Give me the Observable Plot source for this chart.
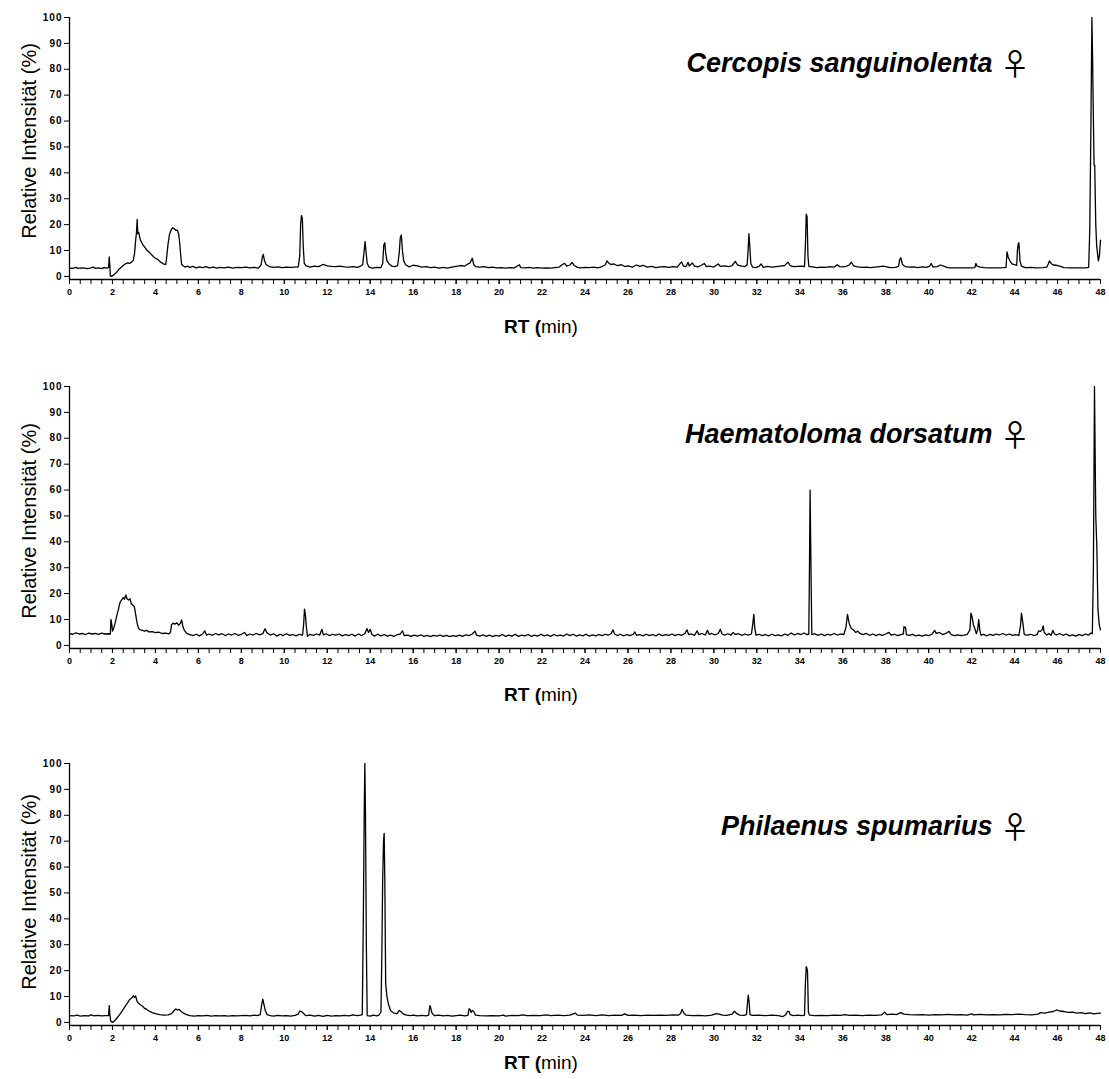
<!DOCTYPE html>
<html>
<head>
<meta charset="utf-8">
<script src="https://cdn.jsdelivr.net/npm/d3@7"></script>
<script src="https://cdn.jsdelivr.net/npm/@observablehq/plot@0.6"></script>
<style>
  html, body { margin: 0; padding: 0; background: #fff; overflow: hidden; }
  #chart { position: relative; width: 1109px; height: 1079px; font-family: Arial, "Liberation Sans", sans-serif; }
  #chart svg { position: absolute; left: 0; overflow: visible; }
</style>
</head>
<body>
<div id="chart"></div>
<script>
// Species shown in the three stacked chromatograms (top to bottom)
const speciesNames = ["Cercopis sanguinolenta", "Haematoloma dorsatum", "Philaenus spumarius"];

// Axis ticks
const xMajorTicks = d3.range(0, 49, 2);          // labelled every 2 min
const xMinorTicks = d3.range(0, 48.01, 0.5);     // unlabelled every 0.5 min
const yTicks = d3.range(0, 101, 10);

// Total ion chromatograms: [retention time (min), relative intensity (%)]
const cercopisTrace = [
  [0,3.2],[0.15,3.1],[0.3,3.5],[0.4,3.1],[0.55,3.3],[0.7,3.2],[0.85,3.0],[1.0,3.3],[1.1,3.6],[1.2,3.1],[1.35,3.3],[1.5,3.0],[1.6,3.4],[1.75,3.2],[1.82,3.5],
  [1.85,7.5],[1.88,4],[1.9,0.2],[1.95,0],[2.05,0.5],[2.2,1.6],[2.3,2.8],[2.45,3.8],[2.55,4.6],[2.7,5.2],[2.8,5.0],[2.9,5.6],[2.97,6.2],
  [3.03,9],[3.08,14],[3.12,17],[3.15,22],[3.18,16.5],[3.22,17],[3.3,14],[3.4,12.5],[3.5,11.3],[3.6,10.2],[3.7,9.4],[3.8,8.6],[3.9,7.7],[4.0,7.0],[4.1,6.6],[4.2,5.8],[4.3,5.2],[4.4,4.7],[4.48,4.6],
  [4.52,7],[4.58,12],[4.65,16],[4.72,17.8],[4.8,18.8],[4.88,18.4],[4.95,17.8],[5.02,17.9],[5.08,16.5],[5.13,13],[5.18,8],[5.22,4.6],[5.3,4.0],[5.4,3.6],[5.5,4.0],
  [5.6,3.5],[5.75,3.9],[5.9,3.3],[6.05,3.7],[6.2,3.4],[6.35,3.8],[6.5,3.3],[6.7,3.6],[6.85,3.2],[7.0,3.5],[7.2,3.3],[7.4,3.6],[7.6,3.2],[7.8,3.5],[8.0,3.4],[8.2,3.6],[8.4,3.3],[8.6,3.5],[8.8,3.2],
  [8.92,4.5],[8.98,7.5],[9.02,8.5],[9.08,6],[9.15,4.6],[9.3,3.8],[9.5,3.5],[9.7,3.7],[9.9,3.4],[10.1,3.6],[10.3,3.5],[10.5,3.6],[10.65,3.7],
  [10.72,8],[10.76,20],[10.8,23.5],[10.84,22.5],[10.88,12],[10.93,5],[11.0,4.2],[11.2,3.6],[11.4,4.0],[11.6,3.8],[11.8,4.6],[12.0,4.1],[12.2,3.9],[12.4,3.8],[12.6,4.0],[12.8,3.7],[13.0,3.6],[13.2,3.8],[13.4,3.5],[13.55,4.0],
  [13.65,4.5],[13.72,10],[13.76,13.5],[13.8,10],[13.86,5],[13.95,3.6],[14.1,3.2],[14.3,3.5],[14.5,3.4],
  [14.58,5],[14.63,12],[14.68,13],[14.72,9],[14.78,6],[14.88,4.8],[15.0,4.0],[15.15,3.8],[15.28,4.2],
  [15.35,9],[15.4,15],[15.45,16],[15.5,10],[15.56,6],[15.65,4.5],[15.8,3.7],[16.0,4.3],[16.2,4.1],[16.4,3.6],[16.6,3.8],[16.8,3.4],[17.0,3.6],[17.2,3.2],[17.4,3.5],[17.6,3.2],[17.8,3.6],[18.0,3.9],[18.2,4.2],[18.4,4.0],
  [18.55,4.8],[18.65,5.2],[18.75,7.0],[18.82,4.6],[18.9,3.8],[19.1,3.6],[19.3,3.8],[19.5,3.4],[19.7,3.6],[19.9,3.3],[20.1,3.4],[20.3,3.2],[20.5,3.4],[20.7,3.3],[20.95,4.5],[21.0,3.4],[21.2,3.3],[21.4,3.5],[21.6,3.2],[21.8,3.4],[22.0,3.2],[22.2,3.3],[22.4,3.2],[22.6,3.4],[22.8,3.6],
  [22.95,4.6],[23.05,5.0],[23.15,4.0],[23.3,4.4],[23.4,5.4],[23.5,4.2],[23.65,3.5],[23.8,3.3],[24.0,3.5],[24.2,3.4],[24.4,3.6],[24.6,3.3],[24.8,3.8],[24.95,4.5],[25.02,6.0],[25.1,5.2],[25.2,4.6],[25.35,4.8],[25.5,4.2],[25.7,4.5],[25.85,3.8],
  [26.0,4.1],[26.2,3.6],[26.4,4.4],[26.55,3.9],[26.7,4.3],[26.9,3.6],[27.1,3.9],[27.3,3.4],[27.5,3.7],[27.7,3.8],[27.9,3.5],[28.1,3.8],[28.3,3.6],[28.45,5.2],[28.5,5.6],[28.58,4.0],[28.7,3.8],[28.8,5.4],[28.85,4.0],[29.0,5.2],[29.1,4.0],
  [29.25,3.7],[29.4,4.2],[29.55,5.0],[29.65,3.8],[29.8,4.0],[30.0,3.6],[30.2,4.8],[30.3,3.9],[30.5,4.1],[30.7,3.8],[30.85,4.2],[31.0,5.8],[31.1,4.4],[31.3,4.0],[31.45,3.8],
  [31.55,4.5],[31.6,11],[31.63,16.5],[31.67,12],[31.72,5],[31.8,3.6],[31.95,3.4],[32.1,3.9],[32.2,4.8],[32.3,3.5],[32.5,3.9],[32.7,3.6],[32.9,3.8],[33.1,4.0],[33.3,4.2],[33.45,5.5],[33.55,4.2],[33.7,3.8],[33.9,3.9],[34.1,4.0],[34.22,3.8],
  [34.27,14],[34.3,24],[34.34,23],[34.38,8],[34.42,3.9],[34.6,3.7],[34.8,3.4],[35.0,3.6],[35.2,3.5],[35.4,3.8],[35.6,3.6],[35.75,4.5],[35.85,3.8],[36.0,3.7],[36.15,3.9],[36.3,4.4],[36.4,5.5],[36.5,4.1],[36.7,3.7],[36.9,3.5],
  [37.1,3.6],[37.3,3.4],[37.5,3.6],[37.7,3.8],[37.9,4.0],[38.05,3.7],[38.2,3.4],[38.45,3.5],[38.6,3.9],[38.65,6.5],[38.7,7.2],[38.78,4.6],[38.9,3.8],[39.1,3.6],[39.3,3.7],[39.5,3.4],[39.7,3.7],[39.9,3.5],
  [40.05,4.0],[40.12,5.0],[40.2,3.6],[40.4,3.8],[40.55,4.4],[40.7,4.0],[40.85,3.5],[41.0,3.3],[41.5,3.3],[42.0,3.3],[42.15,3.4],[42.2,5.0],[42.25,4.0],[42.4,3.6],[42.6,3.4],[42.8,3.3],[43.0,3.3],[43.3,3.3],[43.5,3.4],[43.6,3.5],
  [43.65,9.5],[43.7,7.5],[43.78,6],[43.88,4.8],[44.0,4.5],[44.1,4.3],[44.13,10],[44.17,12.5],[44.2,13],[44.25,6],[44.32,4.0],[44.5,3.4],[44.8,3.5],[45.0,3.3],[45.3,3.4],[45.5,3.6],
  [45.58,5],[45.62,6.0],[45.7,5],[45.8,4.4],[45.95,4.3],[46.1,4.0],[46.3,3.4],[46.6,3.3],[47.0,3.3],[47.3,3.3],[47.45,3.5],
  [47.5,18],[47.55,55],[47.6,100],[47.63,85],[47.67,60],[47.7,43],[47.73,43],[47.78,20],[47.82,12],[47.86,9],[47.9,6],[47.95,8],[48.0,14]
];

const haematolomaTrace = [
  [0,4.5],[0.15,4.3],[0.3,4.8],[0.45,4.4],[0.6,4.6],[0.75,4.2],[0.9,4.7],[1.05,4.4],[1.2,4.6],[1.35,4.3],[1.5,4.7],[1.65,4.4],[1.8,4.5],[1.9,4.4],
  [1.93,10],[1.97,8],[2.0,5.5],[2.05,6.5],[2.12,8.5],[2.2,11.5],[2.28,14],[2.35,16.5],[2.42,17.5],[2.5,18.5],[2.56,17.8],[2.62,19.5],[2.68,18],[2.75,17.5],[2.82,18],[2.88,16],[2.95,15.5],[3.02,15],[3.08,12],[3.15,8.5],[3.22,6.5],
  [3.3,6.0],[3.4,5.8],[3.5,5.5],[3.6,5.8],[3.7,5.2],[3.85,5.3],[4.0,4.9],[4.15,5.1],[4.3,4.6],[4.5,4.7],[4.62,4.4],
  [4.7,5],[4.75,8],[4.82,8.6],[4.9,8.2],[5.0,8.7],[5.08,7.8],[5.15,8.4],[5.22,9.8],[5.28,7.2],[5.35,5.8],[5.45,4.6],[5.6,4.2],
  [5.75,3.8],[5.9,4.3],[6.05,3.7],[6.2,4.4],[6.3,5.6],[6.38,4.0],[6.5,4.4],[6.65,3.9],[6.8,4.6],[6.95,4.1],[7.1,4.5],[7.25,3.8],[7.4,4.4],[7.55,4.0],[7.7,4.6],[7.85,3.9],[8.0,4.3],[8.15,5.0],[8.25,3.8],[8.4,4.4],[8.55,4.0],[8.7,4.6],[8.85,4.1],
  [9.0,4.5],[9.1,6.4],[9.2,4.8],[9.35,4.0],[9.5,4.5],[9.65,3.6],[9.8,4.3],[9.95,3.8],[10.1,4.5],[10.25,3.9],[10.4,4.2],[10.55,3.7],[10.7,4.3],[10.85,4.0],
  [10.9,8],[10.94,14],[10.98,12],[11.03,7],[11.08,3.5],[11.2,4.3],[11.35,3.9],[11.5,4.4],[11.65,4.0],[11.75,6.2],[11.82,4.1],[11.95,4.5],[12.1,3.8],[12.25,4.3],[12.4,4.0],[12.55,4.4],[12.7,3.7],[12.85,4.2],[13.0,3.8],[13.15,4.3],[13.3,3.6],[13.45,4.4],[13.6,3.8],[13.75,4.5],
  [13.85,6.5],[13.92,5],[14.0,6.2],[14.08,4.2],[14.2,3.6],[14.35,4.3],[14.5,3.7],[14.65,4.2],[14.8,3.6],[14.95,4.0],[15.1,3.5],[15.25,4.1],[15.4,4.4],[15.5,5.6],[15.58,3.8],[15.75,4.0],[15.9,3.5],
  [16.05,4.0],[16.2,3.6],[16.35,4.1],[16.5,3.5],[16.65,3.9],[16.8,3.4],[16.95,3.9],[17.1,3.6],[17.25,4.0],[17.4,3.5],[17.55,3.9],[17.7,3.4],[17.85,3.8],[18.0,3.5],[18.15,4.0],[18.3,3.5],[18.45,4.1],[18.6,3.8],[18.75,4.4],[18.88,5.5],[18.95,4.0],
  [19.1,3.6],[19.25,4.1],[19.4,3.5],[19.55,4.0],[19.7,3.4],[19.85,3.9],[20.0,3.6],[20.15,4.2],[20.3,3.5],[20.45,4.0],[20.6,3.6],[20.75,4.3],[20.9,3.5],[21.05,4.0],[21.2,3.7],[21.35,4.2],[21.5,3.5],[21.65,4.0],[21.8,3.6],[21.95,4.3],
  [22.1,3.7],[22.25,4.1],[22.4,3.5],[22.55,4.2],[22.7,3.7],[22.85,4.0],[23.0,3.6],[23.15,4.4],[23.3,3.8],[23.45,4.3],[23.6,3.6],[23.75,4.1],[23.9,3.7],[24.05,4.3],[24.2,3.6],[24.35,4.1],[24.5,3.7],[24.65,4.2],[24.8,3.8],[24.95,4.3],
  [25.1,4.0],[25.22,4.6],[25.3,6.0],[25.38,4.4],[25.5,3.8],[25.65,4.3],[25.8,3.7],[25.95,4.2],[26.1,3.8],[26.25,4.3],[26.32,5.2],[26.4,3.9],[26.55,4.2],[26.7,3.7],[26.85,4.3],[27.0,3.8],[27.15,4.2],[27.3,3.7],[27.45,4.4],[27.6,3.8],[27.75,4.2],[27.9,3.9],
  [28.05,4.4],[28.2,3.8],[28.35,4.3],[28.5,3.9],[28.65,4.6],[28.75,6.0],[28.82,4.2],[28.95,4.4],[29.1,3.9],[29.22,5.6],[29.3,4.2],[29.45,4.6],[29.6,4.0],[29.7,5.8],[29.78,4.3],[29.9,4.6],[30.05,4.0],[30.2,4.6],[30.3,6.2],[30.38,4.4],
  [30.5,4.0],[30.65,4.5],[30.8,4.0],[30.9,5.0],[31.0,4.2],[31.15,4.5],[31.3,3.9],[31.45,4.4],[31.6,4.0],[31.75,4.4],[31.82,9],[31.86,12],[31.9,7],[31.96,4.0],
  [32.1,4.3],[32.25,3.8],[32.4,4.2],[32.55,3.7],[32.7,4.3],[32.85,3.8],[33.0,4.1],[33.15,3.7],[33.3,4.4],[33.45,3.9],[33.6,4.8],[33.75,4.0],[33.9,4.6],[34.05,4.2],[34.2,4.8],[34.32,4.2],[34.42,4.3],
  [34.45,30],[34.48,60],[34.52,30],[34.56,4.2],[34.7,4.5],[34.85,3.9],[35.0,4.4],[35.15,3.8],[35.3,4.3],[35.45,4.0],[35.6,4.6],[35.75,4.0],[35.9,4.4],[36.05,4.2],
  [36.15,7],[36.22,12],[36.3,8.5],[36.4,6.5],[36.5,6.0],[36.6,5.0],[36.7,5.5],[36.8,4.6],[36.95,4.2],[37.1,4.6],[37.25,3.9],[37.4,4.4],[37.55,3.8],[37.7,4.3],[37.85,3.9],[38.0,4.4],[38.15,5.0],[38.25,4.0],[38.4,4.3],[38.55,3.8],[38.7,4.2],[38.82,4.4],
  [38.85,7.2],[38.92,7.0],[38.96,4.2],[39.1,3.9],[39.25,4.3],[39.4,3.7],[39.55,4.0],[39.7,3.6],[39.85,4.1],[40.0,3.8],[40.15,4.3],[40.28,5.8],[40.35,4.6],[40.5,5.0],[40.65,4.2],[40.8,4.6],[40.95,5.4],[41.05,4.2],[41.2,3.8],[41.35,4.1],[41.5,3.8],[41.65,4.0],[41.8,4.3],
  [41.92,6],[41.97,12.5],[42.02,11],[42.08,8],[42.15,6.5],[42.22,4.5],[42.28,6],[42.33,10],[42.38,6],[42.43,4.0],[42.55,4.3],[42.7,3.7],[42.85,4.3],[43.0,3.9],[43.15,4.4],[43.3,4.0],[43.45,4.6],[43.6,4.0],[43.75,4.4],[43.9,3.9],[44.05,4.2],[44.2,3.8],
  [44.28,8],[44.32,12.5],[44.38,9],[44.45,4.2],[44.6,4.0],[44.75,4.3],[44.9,3.8],[45.05,4.2],[45.12,5.6],[45.2,5.4],[45.28,6],[45.33,7.5],[45.38,5],[45.5,4.0],[45.6,4.6],[45.7,3.9],[45.78,5.8],[45.85,4.5],[45.95,4.0],
  [46.1,4.6],[46.25,3.9],[46.4,4.4],[46.55,3.7],[46.7,4.1],[46.85,3.6],[47.0,4.2],[47.15,3.8],[47.3,4.4],[47.45,4.0],[47.55,4.8],[47.62,4.5],
  [47.67,30],[47.72,100],[47.78,50],[47.83,38],[47.88,14],[47.94,8],[48.0,6]
];

const philaenusTrace = [
  [0,2.6],[0.2,2.5],[0.35,2.8],[0.5,2.4],[0.7,2.6],[0.9,2.5],[1.0,2.9],[1.15,2.5],[1.3,2.7],[1.5,2.5],[1.65,2.6],[1.82,2.6],
  [1.85,6.5],[1.88,3],[1.92,0.5],[2.0,0],[2.1,0.6],[2.2,1.6],[2.3,2.6],[2.4,3.8],[2.5,5.0],[2.6,6.3],[2.7,7.5],[2.78,8.6],[2.85,9.2],[2.92,9.6],[2.97,10.3],[3.02,9.6],[3.08,10.2],[3.14,8.2],[3.2,7.5],[3.3,6.8],[3.4,6.2],[3.5,5.4],[3.6,5.0],[3.7,4.4],[3.85,3.8],[4.0,3.4],[4.2,3.0],[4.4,2.8],[4.6,2.9],
  [4.75,3.4],[4.85,4.4],[4.95,5.2],[5.02,4.8],[5.1,5.0],[5.2,4.2],[5.3,3.6],[5.45,3.0],[5.6,2.6],[5.8,2.4],[6.0,2.6],[6.2,2.5],[6.4,2.7],[6.6,2.4],[6.8,2.6],[7.0,2.5],[7.2,2.6],[7.4,2.4],[7.6,2.6],[7.8,2.5],[8.0,2.6],[8.2,2.7],[8.4,2.5],[8.6,2.8],[8.75,2.6],
  [8.88,3.0],[8.95,7],[9.0,9],[9.05,7],[9.12,4.5],[9.2,3.0],[9.35,2.6],[9.5,2.4],[9.7,2.7],[9.9,2.5],[10.1,2.6],[10.3,2.4],[10.5,2.7],[10.65,3.2],[10.72,4.4],[10.8,4.2],[10.9,3.4],[11.0,2.6],
  [11.2,2.8],[11.4,2.4],[11.6,2.7],[11.8,2.3],[12.0,2.7],[12.2,2.4],[12.4,2.6],[12.6,2.5],[12.8,2.7],[13.0,2.5],[13.2,2.9],[13.4,2.6],[13.55,2.8],[13.63,3],
  [13.68,40],[13.72,80],[13.75,100],[13.78,80],[13.82,30],[13.86,2.6],[14.0,2.4],[14.15,2.8],[14.3,2.5],[14.42,2.9],
  [14.5,4],[14.54,25],[14.58,55],[14.62,70],[14.65,73],[14.68,55],[14.72,15],[14.78,10],[14.85,7],[14.95,4.5],[15.1,3.6],[15.25,3.4],[15.35,4.6],[15.42,4.2],[15.55,3.2],[15.7,2.8],[15.85,2.6],
  [16.0,2.8],[16.2,2.5],[16.4,2.7],[16.6,2.5],[16.72,2.8],[16.78,6.5],[16.82,5.5],[16.88,3.5],[17.0,2.6],[17.2,2.8],[17.4,2.5],[17.6,2.7],[17.8,2.4],[18.0,2.6],[18.2,2.8],[18.4,2.5],[18.55,2.7],
  [18.6,5.2],[18.65,5.0],[18.7,3.8],[18.75,4.6],[18.82,4.2],[18.9,2.8],[19.1,2.6],[19.4,2.5],[19.7,2.6],[20.0,2.5],[20.2,2.8],[20.3,2.4],[20.6,2.7],[20.9,2.6],[21.1,2.9],[21.3,2.6],[21.6,2.7],[21.9,2.6],[22.2,2.9],[22.4,2.6],[22.7,2.8],
  [23.0,2.6],[23.3,2.8],[23.55,3.6],[23.65,2.8],[23.9,2.7],[24.2,2.9],[24.5,2.6],[24.8,2.9],[25.1,2.6],[25.4,2.8],[25.7,2.7],[25.85,3.3],[26.0,2.7],[26.3,2.8],[26.6,2.6],[26.9,2.8],[27.2,2.7],[27.5,2.8],[27.8,2.7],[28.1,2.9],[28.35,2.8],
  [28.45,3.4],[28.52,5.0],[28.6,3.6],[28.7,2.8],[29.0,2.6],[29.3,2.7],[29.6,2.5],[29.9,2.8],[30.1,3.4],[30.25,3.2],[30.4,2.8],[30.6,2.7],[30.85,3.2],[30.95,4.3],[31.05,3.5],[31.2,2.8],[31.4,2.7],
  [31.52,3],[31.57,8],[31.6,10.5],[31.64,8],[31.68,3],[31.8,2.7],[32.1,2.8],[32.4,2.6],[32.7,2.8],[33.0,2.6],[33.2,2.2],[33.35,3.0],[33.42,4.2],[33.5,4.2],[33.55,3.0],[33.7,2.6],[33.9,2.8],[34.1,2.6],[34.22,2.8],
  [34.26,15],[34.3,21.5],[34.33,21],[34.36,19.5],[34.4,4],[34.45,2.8],[34.7,2.6],[35.0,2.7],[35.3,2.6],[35.6,2.8],[35.9,2.7],[36.1,3.0],[36.3,2.7],[36.6,2.8],[36.9,2.6],[37.2,2.8],[37.5,2.7],[37.8,2.9],
  [37.95,3.9],[38.05,3.0],[38.3,3.2],[38.5,3.0],[38.7,3.8],[38.85,3.2],[39.1,3.0],[39.4,2.9],[39.7,3.0],[40.0,2.8],[40.3,3.0],[40.6,2.9],[40.9,3.1],[41.2,2.9],[41.5,3.0],[41.8,2.8],[42.0,3.3],[42.1,2.9],[42.4,3.1],[42.7,2.9],
  [43.0,3.0],[43.3,2.9],[43.6,3.1],[43.9,3.0],[44.2,3.2],[44.5,3.0],[44.8,2.9],[45.1,3.2],[45.2,3.8],[45.4,3.6],[45.6,4.0],[45.8,4.2],[45.95,4.8],[46.1,4.4],[46.3,4.2],[46.5,3.9],[46.7,4.0],[46.9,3.6],[47.1,3.8],[47.3,3.4],[47.5,3.7],[47.7,3.3],[47.85,3.5],[48.0,3.6]
];

const traces = [cercopisTrace, haematolomaTrace, philaenusTrace];

// Page layout of the three panels (pixels)
const panels = [
  {top: 0,   title: {y: 72}, ylabel: {y: 141}, xlabel: {y: 333}},
  {top: 369, title: {y: 74}, ylabel: {y: 152}, xlabel: {y: 332}},
  {top: 746, title: {y: 89}, ylabel: {y: 146}, xlabel: {y: 323}}
];

const W = 1109, H = 345;
const mTop = 17, mLeft = 69, mRight = 9, axisY = 279;
const yFloor = -1.2; // x-axis line sits slightly below zero intensity
const font = 'Arial, "Liberation Sans", sans-serif';

const chart = d3.select("#chart");

traces.forEach((trace, i) => {
  const p = panels[i];
  const svg = Plot.plot({
    width: W,
    height: H,
    marginTop: mTop,
    marginBottom: H - axisY,
    marginLeft: mLeft,
    marginRight: mRight,
    style: {fontFamily: font, background: "transparent", color: "#000"},
    x: {domain: [0, 48]},
    y: {domain: [yFloor, 100]},
    marks: [
      Plot.axisY({ticks: yTicks, tickSize: 5, tickPadding: 2, label: null, fontSize: 10, fontWeight: "bold"}),
      Plot.axisX({ticks: xMinorTicks, tickSize: 5, tickFormat: () => "", label: null}),
      Plot.axisX({ticks: xMajorTicks, tickSize: 5, tickPadding: 4, label: null, fontSize: 9, fontWeight: "bold"}),
      Plot.ruleX([0], {y1: yFloor, y2: 100, stroke: "#000", strokeWidth: 1.3}),
      Plot.ruleY([yFloor], {stroke: "#000", strokeWidth: 1.3}),
      Plot.line(trace, {x: d => d[0], y: d => d[1], stroke: "#000", strokeWidth: 1.3})
    ]
  });
  svg.style.top = p.top + "px";
  chart.node().appendChild(svg);

  const s = d3.select(svg);
  s.selectAll("g[aria-label='y-axis tick label'] text").attr("letter-spacing", "1px");

  // Species title with female symbol
  const t = s.append("text")
    .attr("x", 1030).attr("y", p.title.y)
    .attr("text-anchor", "end")
    .attr("font-family", font)
    .attr("font-size", 27)
    .attr("fill", "#000");
  t.append("tspan").attr("font-weight", "bold").attr("font-style", "italic").text(speciesNames[i] + " ");
  t.append("tspan").attr("font-weight", "normal").attr("font-size", 30)
    .attr("font-family", '"Noto Sans CJK JP", "DejaVu Sans", sans-serif').attr("dy", 3).text("\u2640");

  // Y-axis title
  s.append("text")
    .attr("transform", `translate(36,${p.ylabel.y}) rotate(-90)`)
    .attr("text-anchor", "middle")
    .attr("font-family", font)
    .attr("font-size", 20)
    .attr("fill", "#000")
    .text("Relative Intensität (%)");

  // X-axis title
  const xl = s.append("text")
    .attr("x", 541).attr("y", p.xlabel.y)
    .attr("text-anchor", "middle")
    .attr("font-family", font)
    .attr("font-size", 19)
    .attr("fill", "#000");
  xl.append("tspan").attr("font-weight", "bold").text("RT (");
  xl.append("tspan").attr("font-weight", "normal").text("min)");
});
</script>
</body>
</html>
